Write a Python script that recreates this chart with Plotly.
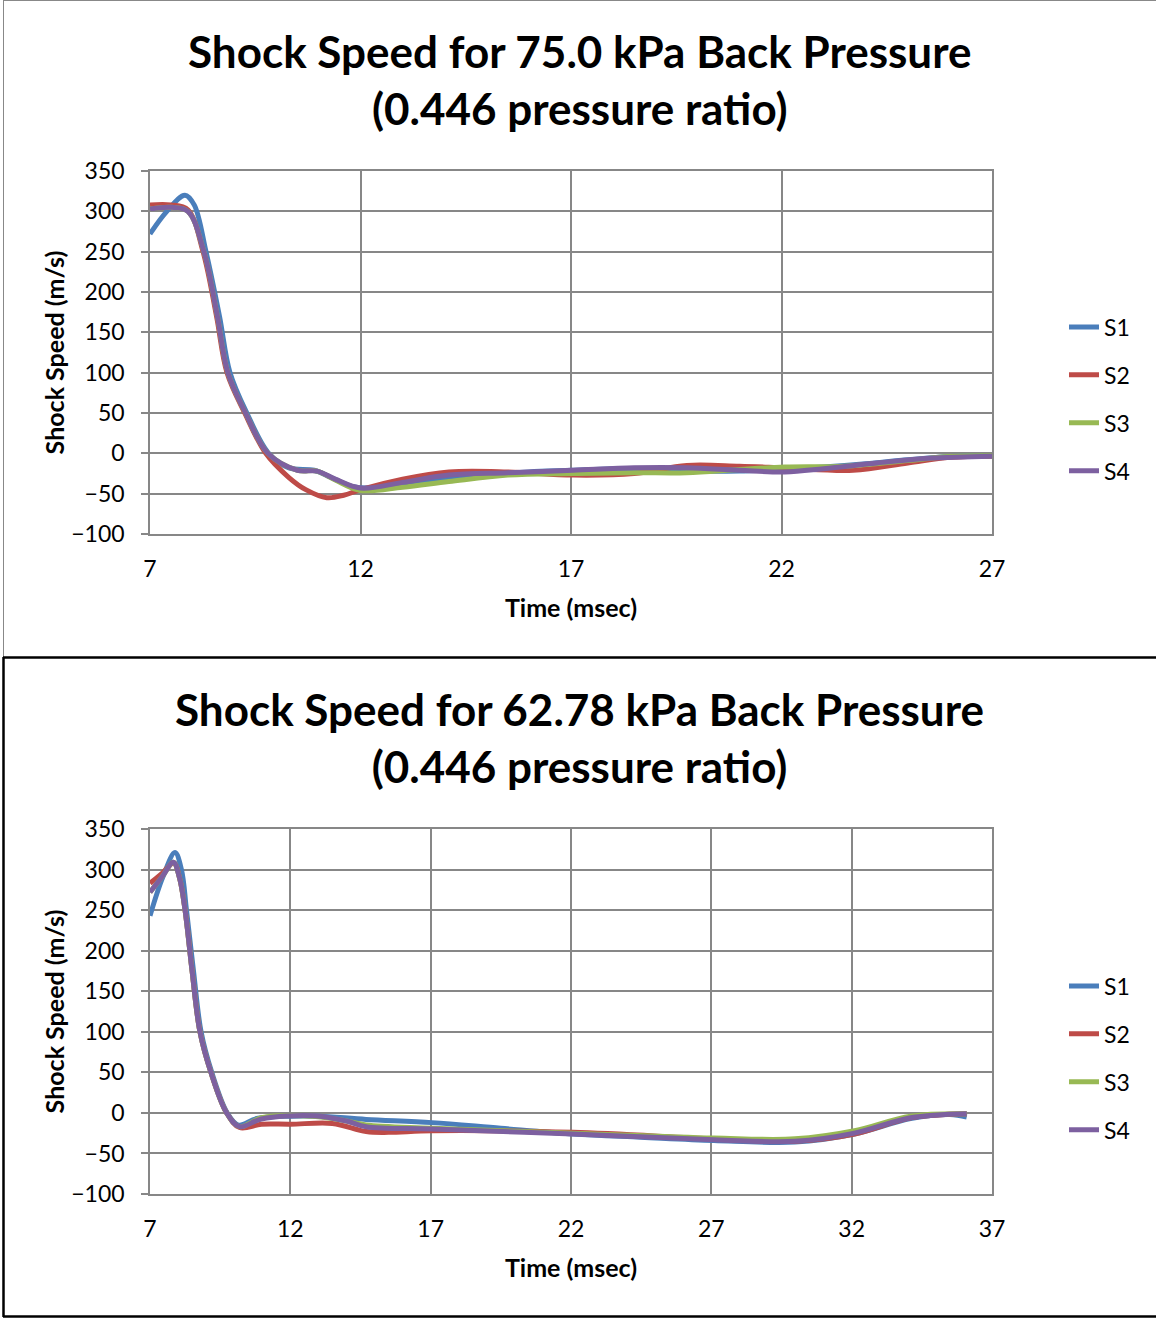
import plotly.graph_objects as go

# ---------------- Data: top chart (75.0 kPa) ----------------
top_s1_t = [7.0, 7.4, 7.83, 8.05, 8.33, 8.65, 8.9, 9.3, 9.82, 10.3, 10.9, 11.3, 11.8, 12.2, 13.0, 14.0, 15.0, 16.0, 17.0, 18.0, 19.0, 20.0, 21.0, 22.0, 23.0, 24.0, 25.0, 26.0, 27.0]
top_s1_v = [272, 300, 320, 308, 250, 170, 100, 50, 0, -18, -21, -30, -41, -43, -38, -32, -27, -23, -21, -19, -19, -22, -22, -20, -17, -13, -8, -4, -3]

top_s2_t = [7.0, 7.5, 7.9, 8.26, 8.58, 8.83, 9.25, 9.75, 10.3, 10.7, 11.2, 11.6, 12.0, 13.0, 14.1, 15.5, 17.05, 18.5, 19.75, 21.0, 22.08, 23.7, 25.0, 26.0, 27.0]
top_s2_v = [308, 308, 302, 250, 170, 100, 50, 0, -30, -45, -55, -52, -45, -32, -23, -23, -27, -25, -15, -16, -18, -21, -12, -5, -3.5]

top_s3_t = [7.0, 7.5, 7.9, 8.28, 8.6, 8.85, 9.27, 9.8, 10.5, 10.97, 11.4, 12.0, 13.0, 14.1, 15.5, 17.05, 18.5, 19.75, 21.0, 22.08, 23.5, 25.0, 26.0, 27.0]
top_s3_v = [303, 305, 300, 250, 170, 100, 50, 0, -21, -22, -33, -46, -42, -35, -27, -25, -24, -24, -20, -17, -16, -9, -4, -3]

top_s4_t = [7.0, 7.5, 7.9, 8.28, 8.6, 8.85, 9.27, 9.8, 10.5, 10.97, 11.4, 12.0, 13.0, 14.1, 15.5, 17.05, 18.5, 19.75, 21.0, 22.08, 23.0, 24.27, 25.5, 27.0]
top_s4_v = [303, 305, 300, 250, 170, 100, 50, 0, -21, -22, -32, -43, -36, -27, -24, -21, -18, -18, -21, -23, -19, -12, -6, -3.5]

# ---------------- Data: bottom chart (62.78 kPa) ----------------
bot_s1_t = [7.0, 7.45, 7.89, 8.12, 8.3, 8.55, 8.82, 9.2, 9.75, 10.15, 10.8, 12.0, 13.0, 14.7, 17.05, 19.5, 22.07, 24.5, 27.09, 29.98, 32.1, 34.1, 35.5, 36.1]
bot_s1_v = [243, 290, 321, 300, 250, 175, 100, 50, 0, -15, -7, -4, -4, -8, -12, -19, -26, -30, -34, -36, -26, -7, -2, -5]

bot_s2_t = [7.0, 7.45, 7.85, 8.05, 8.25, 8.5, 8.78, 9.17, 9.73, 10.19, 10.97, 12.0, 13.5, 14.7, 15.5, 17.05, 22.07, 27.09, 29.98, 32.1, 34.1, 36.1]
bot_s2_v = [283, 296, 308, 290, 250, 175, 100, 50, 0, -18, -14, -14, -13, -23, -24, -22, -24, -32, -35, -26, -6, -1]

bot_s3_t = [7.0, 7.45, 7.83, 8.05, 8.25, 8.5, 8.78, 9.17, 9.73, 10.19, 10.97, 12.8, 14.0, 14.7, 17.05, 22.07, 27.09, 29.98, 32.1, 34.1, 36.1]
bot_s3_v = [272, 292, 309, 290, 250, 175, 100, 50, 0, -17, -6, -4, -10, -15, -19, -25, -31, -32, -22, -4, -1]

bot_s4_t = [7.0, 7.45, 7.83, 8.05, 8.25, 8.5, 8.78, 9.17, 9.73, 10.19, 10.97, 12.8, 14.0, 14.7, 17.05, 22.07, 27.09, 29.98, 32.1, 34.1, 36.1]
bot_s4_v = [272, 292, 309, 290, 250, 175, 100, 50, 0, -17, -7.5, -3.5, -10, -17, -20, -26, -33, -35, -25, -6, -1]

series_names = ["S1", "S2", "S3", "S4"]
colors = ["#4A7EBB", "#BE4B48", "#98B954", "#7D60A0"]

top_titles = ["Shock Speed for 75.0 kPa Back Pressure", "(0.446 pressure ratio)"]
bot_titles = ["Shock Speed for 62.78 kPa Back Pressure", "(0.446 pressure ratio)"]
x_title = "Time (msec)"
y_title = "Shock Speed (m/s)"
top_xticks = [7, 12, 17, 22, 27]
bot_xticks = [7, 12, 17, 22, 27, 32, 37]
yticks = [-100, -50, 0, 50, 100, 150, 200, 250, 300, 350]

W, H = 1156, 1318
FONT = "Lato"

def px(x):
    return x / W

def py(y):
    return 1 - y / H

fig = go.Figure()

top = [(top_s1_t, top_s1_v), (top_s2_t, top_s2_v), (top_s3_t, top_s3_v), (top_s4_t, top_s4_v)]
bot = [(bot_s1_t, bot_s1_v), (bot_s2_t, bot_s2_v), (bot_s3_t, bot_s3_v), (bot_s4_t, bot_s4_v)]

for i, (t, v) in enumerate(top):
    fig.add_trace(go.Scatter(x=t, y=v, mode="lines", name=series_names[i],
                             line=dict(color=colors[i], width=5, shape="spline", smoothing=1.0),
                             xaxis="x", yaxis="y", legend="legend", legendgroup="t" + str(i)))
for i, (t, v) in enumerate(bot):
    fig.add_trace(go.Scatter(x=t, y=v, mode="lines", name=series_names[i],
                             line=dict(color=colors[i], width=5, shape="spline", smoothing=1.0),
                             xaxis="x2", yaxis="y2", legend="legend2", legendgroup="b" + str(i)))

grid = "#878787"
tickfont = dict(family=FONT, size=23, color="black")
axtitle = dict(family=FONT, size=25, color="black")

def xaxis(rng, ticks, anchor):
    return dict(range=rng, tickvals=ticks, domain=[px(150), px(992)], anchor=anchor,
                showgrid=True, gridcolor=grid, gridwidth=1.5, zeroline=False,
                showline=True, linecolor=grid, linewidth=1.5, mirror=True,
                ticks="", tickfont=tickfont, ticklabelstandoff=14, automargin=False,
                title=dict(text="<b>" + x_title + "</b>", font=axtitle, standoff=18))

def yaxis(dom, anchor):
    return dict(range=[-100, 350], tickvals=yticks, domain=dom, anchor=anchor,
                showgrid=True, gridcolor=grid, gridwidth=1.5, zeroline=False,
                showline=True, linecolor=grid, linewidth=1.5, mirror=True,
                ticks="outside", ticklen=7, tickcolor=grid, tickwidth=1.5,
                tickfont=tickfont, ticklabelstandoff=12, automargin=False,
                title=dict(text="<b>" + y_title + "</b>", font=axtitle, standoff=0))

legend_common = dict(font=dict(family=FONT, size=23, color="black"), xanchor="left", yanchor="middle",
                     tracegroupgap=15, bgcolor="rgba(0,0,0,0)", itemwidth=30)

fig.update_layout(
    width=W, height=H, margin=dict(l=0, r=0, t=0, b=0, pad=0, autoexpand=False),
    paper_bgcolor="white", plot_bgcolor="white",
    xaxis=xaxis([7, 27], top_xticks, "y"),
    yaxis=yaxis([py(534), py(171)], "x"),
    xaxis2=xaxis([7, 37], bot_xticks, "y2"),
    yaxis2=yaxis([py(1194), py(829)], "x2"),
    legend=dict(x=px(1064), y=py(399), **legend_common),
    legend2=dict(x=px(1064), y=py(1058), **legend_common),
    annotations=[
        dict(text="<b>" + top_titles[0] + "<br>" + top_titles[1] + "</b>", x=px(579), y=py(79),
             xref="paper", yref="paper", showarrow=False, xanchor="center", yanchor="middle",
             font=dict(family=FONT, size=44, color="black")),
        dict(text="<b>" + bot_titles[0] + "<br>" + bot_titles[1] + "</b>", x=px(579), y=py(737),
             xref="paper", yref="paper", showarrow=False, xanchor="center", yanchor="middle",
             font=dict(family=FONT, size=44, color="black")),
    ],
    shapes=[
        dict(type="line", xref="paper", yref="paper", x0=px(3), x1=1, y0=py(0.5), y1=py(0.5), line=dict(color="#888888", width=1)),
        dict(type="line", xref="paper", yref="paper", x0=px(3.5), x1=px(3.5), y0=py(0), y1=py(657), line=dict(color="#888888", width=1)),
        dict(type="line", xref="paper", yref="paper", x0=px(3), x1=1, y0=py(657.5), y1=py(657.5), line=dict(color="black", width=2.5)),
        dict(type="line", xref="paper", yref="paper", x0=px(3.5), x1=px(3.5), y0=py(657), y1=py(1317), line=dict(color="black", width=2.5)),
        dict(type="line", xref="paper", yref="paper", x0=px(3), x1=1, y0=py(1316.5), y1=py(1316.5), line=dict(color="black", width=2.5)),
    ],
)

fig.write_html("out.html", config={"displayModeBar": False},
               post_script="document.body.style.margin='0';document.body.style.overflow='hidden';")
